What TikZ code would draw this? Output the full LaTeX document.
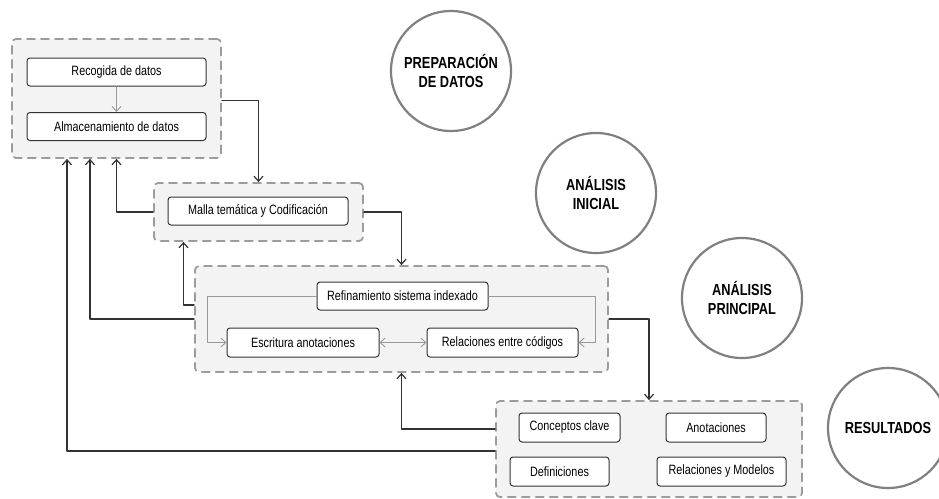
\documentclass[tikz,border=0pt]{standalone}
\usepackage{fontspec}
\setmainfont{Liberation Sans}[FakeStretch=0.8]
\usetikzlibrary{arrows.meta}
\definecolor{bordeGris}{HTML}{9C9C9C}
\definecolor{fondoGris}{HTML}{F3F3F3}
\definecolor{lineaOsc}{HTML}{333333}
\definecolor{lineaClara}{HTML}{999999}
\definecolor{circGris}{HTML}{808080}
\tikzset{
	grupo/.style={draw=bordeGris,fill=fondoGris,dash pattern=on 8pt off 6pt,line width=1.8pt,rounded corners=4pt,inner sep=0pt},
	caja/.style={draw=lineaOsc,fill=white,line width=1pt,rounded corners=3pt,inner sep=0pt,minimum height=28pt,font=\fontsize{13.5}{15}\selectfont},
	fase/.style={circle,draw=circGris,line width=2.2pt,fill=white,minimum size=120pt,inner sep=0pt,align=center,font=\bfseries\fontsize{16}{19}\selectfont},
	conn/.style={draw=lineaOsc,line width=1.2pt,->},
	gconn/.style={draw=lineaClara,line width=0.9pt,->}
}
\begin{document}
\begin{tikzpicture}[x=1pt,y=-1pt,>={Straight Barb[length=5pt,width=9pt]},line join=round,line cap=round]
	\useasboundingbox[fill=white] (0,0) rectangle (939,498);
	%Fases
	\node[fase] (F1) at (451,71) {PREPARACIÓN\\DE DATOS};
	\node[fase] (F2) at (596,193) {ANÁLISIS\\INICIAL};
	\node[fase] (F3) at (742,298) {ANÁLISIS\\PRINCIPAL};
	\node[fase] (F4) at (888,428) {RESULTADOS};
	%Grupos
	\node[grupo,minimum width=209pt,minimum height=119pt] (G1) at (116.5,98.5) {};
	\node[grupo,minimum width=209pt,minimum height=58pt] (G2) at (258.5,212) {};
	\node[grupo,minimum width=413pt,minimum height=106pt] (G3) at (401.5,319) {};
	\node[grupo,minimum width=306pt,minimum height=96pt] (G4) at (649,449) {};
	%Preparacion de datos
	\node[caja,minimum width=179pt] (rec) at (116.5,72) {Recogida de datos};
	\node[caja,minimum width=179pt] (alm) at (116.5,126.5) {Almacenamiento de datos};
	\draw[gconn] (rec) -- (alm);
	%Analisis inicial
	\node[caja,minimum width=180pt] (mal) at (258,211) {Malla temática y Codificación};
	%Analisis principal
	\node[caja,minimum width=171pt] (ref) at (402.5,296) {Refinamiento sistema indexado};
	\node[caja,minimum width=152pt,minimum height=29pt] (esc) at (303,342.5) {Escritura anotaciones};
	\node[caja,minimum width=151pt,minimum height=29pt] (rel) at (502.5,342.5) {Relaciones entre códigos};
	\draw[gconn] (ref.west) -| ([xshift=-19pt]esc.west) -- (esc.west);
	\draw[gconn] (ref.east) -| ([xshift=17pt]rel.east) -- (rel.east);
	\draw[gconn,<->] (esc) -- (rel);
	%Resultados
	\node[caja,minimum width=101pt,minimum height=29pt] (con) at (569.5,427.5) {Conceptos clave};
	\node[caja,minimum width=100pt,minimum height=29pt] (ano) at (716,427.5) {Anotaciones};
	\node[caja,minimum width=99pt,minimum height=29pt] (def) at (559.5,471.5) {Definiciones};
	\node[caja,minimum width=129pt,minimum height=29pt] (mod) at (721.5,471.5) {Relaciones y Modelos};
	%Conexiones entre grupos
	\draw[conn] ([yshift=-2pt]G1.east) -| (G2.north);
	\draw[conn] (G2.east) -| (G3.north);
	\draw[conn] (G3.east) -| (G4.north);
	\draw[conn] (G2.west) -| (G1.south);
	\draw[conn] ([yshift=14pt]G3.west) -| ([xshift=-75pt]G2.south);
	\draw[conn] (G3.west) -| ([xshift=-26.5pt]G1.south);
	\draw[conn] ([yshift=20pt]G4.west) -| (G3.south);
	\draw[conn] ([yshift=-2pt]G4.west) -| ([xshift=-49.5pt]G1.south);
\end{tikzpicture}
\end{document}
